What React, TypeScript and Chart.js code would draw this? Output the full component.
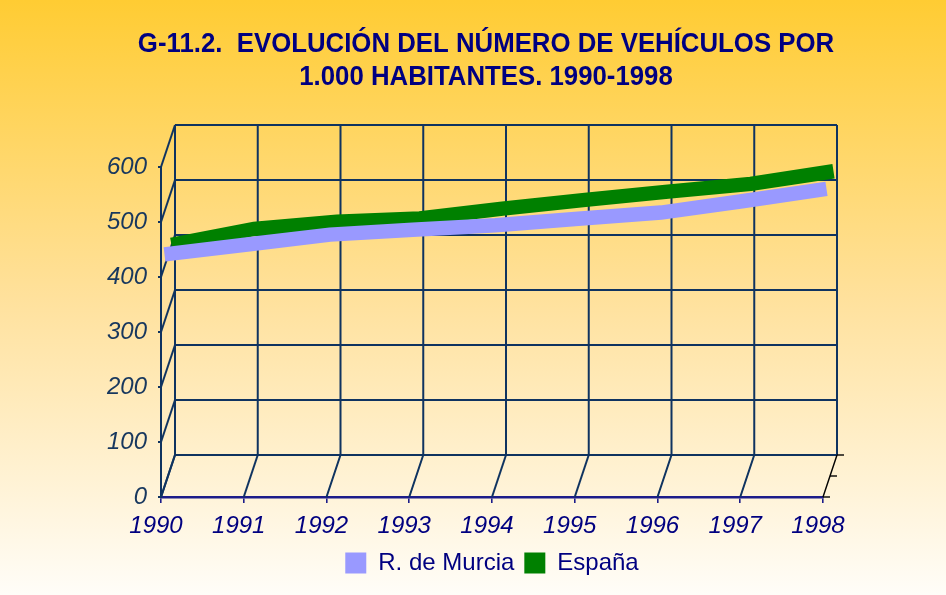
import React, { useEffect, useRef } from 'react';
import { Chart, registerables } from 'chart.js';

Chart.register(...registerables);

// ---- data ----
const years = ['1990', '1991', '1992', '1993', '1994', '1995', '1996', '1997', '1998'];
const murcia = [422, 440, 458, 467, 475, 487, 498, 519, 541];
const espana = [401, 430, 443, 449, 467, 483, 498, 512, 535];
const yTicks = [0, 100, 200, 300, 400, 500, 600];
const seriesNames = ['R. de Murcia', 'España'];
const seriesColors = ['#9999FF', '#008000'];
const seriesDepth = [0.25, 0.75];
const titleLines = ['G-11.2.  EVOLUCIÓN DEL NÚMERO DE VEHÍCULOS POR', '1.000 HABITANTES. 1990-1998'];

// ---- style ----
const FONT = "'Liberation Sans', Arial, sans-serif";
const GRID = '#0f3360';
const XAXIS = '#1c1c8a';
const DEPTH_X = 14;
const DEPTH_Y = -42;

const bgPlugin = {
  id: 'bgGradient',
  beforeDraw(chart: any) {
    const { ctx, width, height } = chart;
    const g = ctx.createLinearGradient(0, 0, 0, height);
    g.addColorStop(0, '#FFCC33');
    g.addColorStop(0.5, '#FFE19C');
    g.addColorStop(1, '#FFFDF8');
    ctx.save();
    ctx.fillStyle = g;
    ctx.fillRect(0, 0, width, height);
    ctx.restore();
  },
};

const titlePlugin = {
  id: 'centeredTitle',
  afterDraw(chart: any) {
    const { ctx } = chart;
    ctx.save();
    ctx.fillStyle = '#000080';
    ctx.font = `bold 27px ${FONT}`;
    ctx.textAlign = 'center';
    ctx.textBaseline = 'middle';
    ctx.translate(486, 0);
    ctx.scale(0.955, 1);
    titleLines.forEach((t, i) => ctx.fillText(t, 0, 45 + i * 33));
    ctx.restore();
  },
};

const frame3dPlugin = {
  id: 'frame3d',
  beforeDatasetsDraw(chart: any) {
    const { ctx } = chart;
    const x = chart.scales.x;
    const y = chart.scales.y;
    const n = years.length;
    const x0 = x.getPixelForValue(0);
    const xN = x.getPixelForValue(n - 1);
    const yb = y.getPixelForValue(yTicks[0]);
    const yt = y.getPixelForValue(yTicks[yTicks.length - 1]);
    const line = (ax: number, ay: number, bx: number, by: number) => {
      ctx.beginPath();
      ctx.moveTo(ax, ay);
      ctx.lineTo(bx, by);
      ctx.stroke();
    };
    ctx.save();
    ctx.strokeStyle = GRID;
    ctx.lineWidth = 2;
    // back wall horizontals
    yTicks.forEach((v) => {
      const py = y.getPixelForValue(v) + DEPTH_Y;
      line(x0 + DEPTH_X, py, xN + DEPTH_X, py);
    });
    // back wall verticals
    for (let i = 0; i < n; i++) {
      const px = x.getPixelForValue(i) + DEPTH_X;
      line(px, yb + DEPTH_Y, px, yt + DEPTH_Y);
    }
    // side wall diagonals
    yTicks.forEach((v) => {
      const py = y.getPixelForValue(v);
      line(x0, py, x0 + DEPTH_X, py + DEPTH_Y);
    });
    // floor diagonals
    for (let i = 0; i < n - 1; i++) {
      const px = x.getPixelForValue(i);
      line(px, yb, px + DEPTH_X, yb + DEPTH_Y);
    }
    // depth (series) axis
    ctx.strokeStyle = '#000000';
    ctx.lineWidth = 1.4;
    line(xN, yb, xN + DEPTH_X, yb + DEPTH_Y);
    [0, 0.5, 1].forEach((d) => {
      const px = xN + DEPTH_X * d;
      const py = yb + DEPTH_Y * d;
      line(px, py, px + 7, py);
    });
    ctx.restore();
  },
  beforeDatasetDraw(chart: any, args: any) {
    const d = seriesDepth[args.index] ?? 0;
    chart.ctx.save();
    chart.ctx.translate(DEPTH_X * d, DEPTH_Y * d);
  },
  afterDatasetDraw(chart: any) {
    chart.ctx.restore();
  },
};

export default function App() {
  const ref = useRef<HTMLCanvasElement>(null);

  useEffect(() => {
    if (!ref.current) return;
    const seriesData = [murcia, espana];
    const chart = new Chart(ref.current, {
      type: 'line',
      data: {
        labels: years,
        datasets: seriesNames.map((name, i) => ({
          label: name,
          data: seriesData[i],
          borderColor: seriesColors[i],
          backgroundColor: seriesColors[i],
          borderWidth: 14.5,
          borderCapStyle: 'butt' as const,
          borderJoinStyle: 'miter' as const,
          pointRadius: 0,
          tension: 0,
          fill: false,
          clip: false as any,
        })),
      },
      options: {
        responsive: false,
        animation: false,
        devicePixelRatio: 1,
        events: [],
        layout: { padding: { left: 0, right: 123, top: 167, bottom: 10 } },
        scales: {
          x: {
            type: 'category',
            offset: false,
            grid: {
              display: true,
              drawOnChartArea: false,
              drawTicks: true,
              tickLength: 6,
              color: XAXIS,
              lineWidth: 1.6,
            },
            border: { display: true, color: XAXIS, width: 2.4 },
            ticks: {
              font: { family: FONT, size: 24, style: 'italic' },
              color: '#000080',
              padding: 9,
              labelOffset: -5,
              maxRotation: 0,
              autoSkip: false,
            },
            afterFit: (scale: any) => {
              scale.height = 44;
            },
          },
          y: {
            min: 0,
            max: 600,
            grid: {
              display: true,
              drawOnChartArea: false,
              drawTicks: true,
              tickLength: 3,
              color: GRID,
              lineWidth: 2,
            },
            border: { display: true, color: GRID, width: 2 },
            ticks: {
              stepSize: 100,
              font: { family: FONT, size: 24, style: 'italic' },
              color: '#17375E',
              padding: 11,
            },
            afterFit: (scale: any) => {
              scale.width = 161;
            },
          },
        },
        plugins: {
          title: { display: false },
          legend: {
            display: true,
            fullSize: false,
            position: 'bottom',
            labels: {
              boxWidth: 21,
              boxHeight: 21,
              padding: 10,
              color: '#000080',
              font: { family: FONT, size: 24 },
              generateLabels: (c: any) =>
                Chart.defaults.plugins.legend.labels.generateLabels(c).map((l: any, i: number) => ({
                  ...l,
                  fillStyle: seriesColors[i],
                  strokeStyle: seriesColors[i],
                  lineWidth: 0,
                })),
            },
          },
          tooltip: { enabled: false },
        },
      },
      plugins: [bgPlugin, frame3dPlugin, titlePlugin],
    });
    return () => chart.destroy();
  }, []);

  return (
    <div style={{ position: 'absolute', left: 0, top: 0, width: 946, height: 595 }}>
      <canvas ref={ref} width={946} height={595} style={{ display: 'block', width: 946, height: 595 }} />
    </div>
  );
}
